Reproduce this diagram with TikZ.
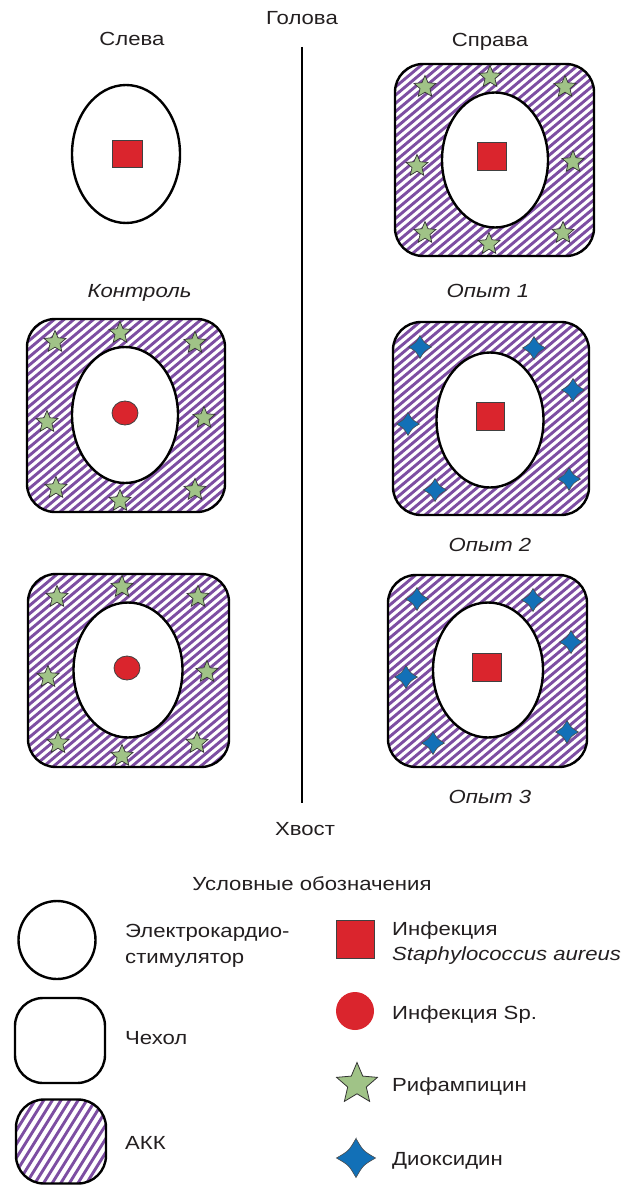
\documentclass[tikz,border=0pt]{standalone}
\usepackage{fontspec}
\setmainfont[FakeStretch=1.165]{Liberation Sans}
\usetikzlibrary{shapes.geometric}

\definecolor{akkviolet}{RGB}{125,78,162}
\definecolor{infred}{RGB}{218,37,45}
\definecolor{rifgreen}{RGB}{160,195,135}
\definecolor{dioxblue}{RGB}{18,112,183}
\definecolor{inkgray}{RGB}{35,31,32}

\tikzset{
  lbl/.style={font=\fontsize{19}{22}\selectfont, text=inkgray, inner sep=0pt, anchor=base},
  lbli/.style={lbl, font=\fontsize{19}{22}\selectfont\itshape},
  lgd/.style={lbl, anchor=base west},
  % cover (Chehol) with antibacterial coating: hatched rounded box
  akkbox/.style={rectangle, draw=black, line width=2.4pt, rounded corners=28pt,
    fill=white, inner sep=0pt,
    path picture={
      \foreach \k in {-30,...,30}
        \draw[draw=akkviolet, line width=2.9pt]
          ([xshift=\k*9.8pt]path picture bounding box.center) ++(220:300pt) -- ++(40:600pt);
    }},
  lgdakk/.style={rectangle, draw=black, line width=2.4pt, rounded corners=28pt,
    fill=white, inner sep=0pt,
    path picture={
      \foreach \k in {-16,...,16}
        \draw[draw=akkviolet, line width=2.9pt]
          ([xshift=\k*8.6pt]path picture bounding box.center) ++(238:150pt) -- ++(58:300pt);
    }},
  pace/.style={ellipse, draw=black, line width=2.4pt, fill=white, inner sep=0pt},
  sainf/.style={rectangle, draw=black!75, line width=0.8pt, fill=infred, inner sep=0pt},
  spinf/.style={ellipse, draw=black!75, line width=0.8pt, fill=infred, inner sep=0pt},
  rif/.style={star, star points=5, star point ratio=2.2, draw=black!80, line width=0.7pt,
    fill=rifgreen, minimum size=23pt, inner sep=0pt},
  diox/.pic={
    \path[draw=black!70, line width=0.6pt, fill=dioxblue]
      (0,-11.5) .. controls (4.2,-4.2) .. (11.5,0)
      .. controls (4.2,4.2) .. (0,11.5)
      .. controls (-4.2,4.2) .. (-11.5,0)
      .. controls (-4.2,-4.2) .. cycle;
  },
}

\begin{document}
\begin{tikzpicture}[x=1pt,y=-1pt]
\useasboundingbox (0,0) rectangle (624,1185);

% axis head to tail
\node[lbl] (head) at (302,24.5) {Голова};
\node[lbl] (tail) at (305,835.5) {Хвост};
\coordinate (axtop) at (302,47);
\coordinate (axbot) at (302,803);
\draw[line width=2.4pt, black] (axtop) -- (axbot);

\node[lbl] (left) at (132,45.5) {Слева};
\node[lbl] (right) at (490,46.5) {Справа};

% left column
\node[pace, minimum width=108pt, minimum height=138pt] (e0) at (126,154) {};
\node[sainf, minimum width=30pt, minimum height=27pt] (sq0) at (127,154) {};
\node[lbli] (ctrl) at (139.5,297.5) {Контроль};

\node[akkbox, minimum width=198pt, minimum height=193pt] (b2) at (126,415.5) {};
\node[pace, minimum width=106pt, minimum height=136pt] (e2) at (125,415) {};
\node[spinf, minimum width=26pt, minimum height=24pt] (c2) at (125,413) {};
\foreach \p [count=\i] in {(55,342),(120,333),(195,343),(47,422),(204,418),(56,488),(120,501),(195,490)}
  \node[rif] (s2-\i) at \p {};

\node[akkbox, minimum width=201pt, minimum height=193pt] (b4) at (128.5,670.5) {};
\node[pace, minimum width=109pt, minimum height=135pt] (e4) at (128,670) {};
\node[spinf, minimum width=26pt, minimum height=24pt] (c4) at (127,668) {};
\foreach \p [count=\i] in {(57,597),(122,587),(198,597),(48,677),(207,672),(58,743),(122,756),(197,743)}
  \node[rif] (s4-\i) at \p {};

% right column
\node[akkbox, minimum width=199pt, minimum height=192pt] (b1) at (494.5,160) {};
\node[pace, minimum width=106pt, minimum height=135pt] (e1) at (495,160) {};
\node[sainf, minimum width=29pt, minimum height=28pt] (sq1) at (492,156) {};
\foreach \p [count=\i] in {(425,87),(490,77),(565,87),(417,166),(573,162),(425,233),(489,244),(563,233)}
  \node[rif] (s1-\i) at \p {};
\node[lbli] (exp1) at (488,297.5) {Опыт 1};

\node[akkbox, minimum width=196pt, minimum height=193pt] (b3) at (491,418.5) {};
\node[pace, minimum width=107pt, minimum height=135pt] (e3) at (490,420) {};
\node[sainf, minimum width=28pt, minimum height=28pt] (sq3) at (490,416) {};
\foreach \p [count=\i] in {(420,347),(534,348),(573,390),(408,424),(435,490),(569,479)}
  \pic (d3-\i) at \p {diox};
\node[lbli] (exp2) at (490,551.5) {Опыт 2};

\node[akkbox, minimum width=199pt, minimum height=192pt] (b5) at (487.5,671) {};
\node[pace, minimum width=110pt, minimum height=135pt] (e5) at (488,670) {};
\node[sainf, minimum width=29pt, minimum height=28pt] (sq5) at (487,667) {};
\foreach \p [count=\i] in {(417,599),(533,600),(571,642),(406,677),(433,743),(567,732)}
  \pic (d5-\i) at \p {diox};
\node[lbli] (exp3) at (490,803.5) {Опыт 3};

% legend
\node[lbl] (lgtitle) at (312,890.5) {Условные обозначения};

\node[pace, minimum width=77pt, minimum height=78pt] (lgpace) at (57,940) {};
\node[lgd] (lgpacet1) at (125,937.5) {Электрокардио-};
\node[lgd] (lgpacet2) at (125,963.5) {стимулятор};

\node[pace, rounded corners=28pt, rectangle, minimum width=90pt, minimum height=85pt] (lgcase) at (60,1040.5) {};
\node[lgd] (lgcaset) at (125,1044.5) {Чехол};

\node[lgdakk, minimum width=90pt, minimum height=84pt] (lgakk) at (61,1141.5) {};
\node[lgd] (lgakkt) at (125,1149.5) {АКК};

\node[sainf, minimum width=38pt, minimum height=38pt] (lgsq) at (355,939) {};
\node[lgd] (lgsqt1) at (392,935.5) {Инфекция};
\node[lgd, font=\fontsize{19}{22}\selectfont\itshape] (lgsqt2) at (392,960.5) {Staphylococcus aureus};

\node[ellipse, fill=infred, inner sep=0pt, minimum width=38pt, minimum height=38pt] (lgcirc) at (355,1011) {};
\node[lgd] (lgcirct) at (392,1019.5) {Инфекция Sp.};

\node[rif, minimum size=43pt, line width=0.8pt] (lgstar) at (357,1084) {};
\node[lgd] (lgstart) at (392,1091.5) {Рифампицин};

\pic[scale=1.7] (lgdiox) at (356,1158) {diox};
\node[lgd] (lgdioxt) at (392,1165.5) {Диоксидин};
\end{tikzpicture}
\end{document}
